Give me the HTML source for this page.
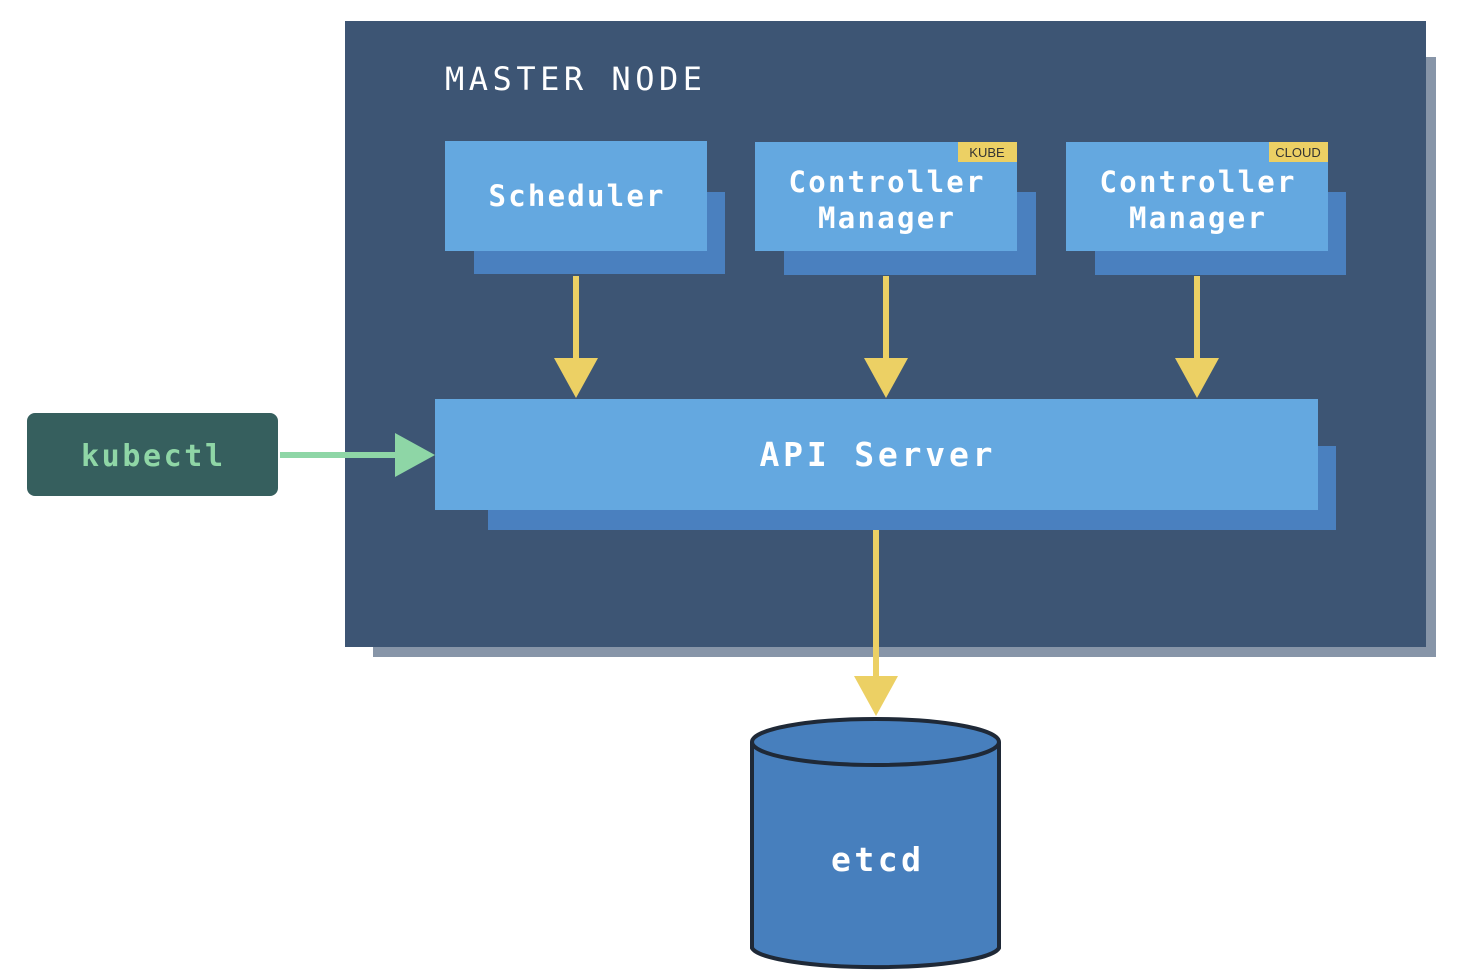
<!DOCTYPE html>
<html><head><meta charset="utf-8"><style>html,body{margin:0;padding:0;background:#fff}svg{display:block}</style></head>
<body>
<svg width="1468" height="972" viewBox="0 0 1468 972" xmlns="http://www.w3.org/2000/svg" font-family="DejaVu Sans Mono, Liberation Mono, monospace">
<rect x="373" y="57" width="1063" height="600" fill="#8795a8"/>
<rect x="345" y="21" width="1081" height="626" fill="#3d5574"/>
<text x="445" y="90" fill="#fff" font-size="32" textLength="257" lengthAdjust="spacing">MASTER NODE</text>

<rect x="474" y="192" width="251" height="82" fill="#4a80bf"/>
<rect x="445" y="141" width="262" height="110" fill="#64a8e0"/>
<text x="576" y="206" fill="#fff" font-size="29" font-weight="bold" text-anchor="middle" textLength="175" lengthAdjust="spacing">Scheduler</text>

<rect x="784" y="192" width="252" height="83" fill="#4a80bf"/>
<rect x="755" y="142" width="262" height="109" fill="#64a8e0"/>
<rect x="958" y="142" width="59" height="20" fill="#ecd064"/>
<text x="987" y="157" fill="#333" font-size="13" font-family="Liberation Sans, sans-serif" text-anchor="middle">KUBE</text>
<text x="886" y="192" fill="#fff" font-size="29" font-weight="bold" text-anchor="middle" textLength="195" lengthAdjust="spacing">Controller</text>
<text x="886" y="228" fill="#fff" font-size="29" font-weight="bold" text-anchor="middle" textLength="136" lengthAdjust="spacing">Manager</text>

<rect x="1095" y="192" width="251" height="83" fill="#4a80bf"/>
<rect x="1066" y="142" width="262" height="109" fill="#64a8e0"/>
<rect x="1269" y="142" width="59" height="20" fill="#ecd064"/>
<text x="1298" y="157" fill="#333" font-size="13" font-family="Liberation Sans, sans-serif" text-anchor="middle">CLOUD</text>
<text x="1197" y="192" fill="#fff" font-size="29" font-weight="bold" text-anchor="middle" textLength="195" lengthAdjust="spacing">Controller</text>
<text x="1197" y="228" fill="#fff" font-size="29" font-weight="bold" text-anchor="middle" textLength="136" lengthAdjust="spacing">Manager</text>

<g fill="#ecd064">
<rect x="573" y="276" width="6" height="84"/><polygon points="554,358 598,358 576,398"/>
<rect x="883" y="276" width="6" height="84"/><polygon points="864,358 908,358 886,398"/>
<rect x="1194" y="276" width="6" height="84"/><polygon points="1175,358 1219,358 1197,398"/>
</g>

<rect x="488" y="446" width="848" height="84" fill="#4a80bf"/>
<rect x="435" y="399" width="883" height="111" fill="#64a8e0"/>
<text x="876" y="466" fill="#fff" font-size="33" font-weight="bold" text-anchor="middle" textLength="233" lengthAdjust="spacing">API Server</text>

<rect x="27" y="413" width="251" height="83" rx="8" fill="#365f5e"/>
<text x="152" y="466" fill="#8fd6a6" font-size="30" font-weight="bold" text-anchor="middle" textLength="142" lengthAdjust="spacing">kubectl</text>
<rect x="280" y="452" width="118" height="6" fill="#8ed6a6"/>
<polygon points="395,433 395,477 435,455" fill="#8ed6a6"/>

<rect x="873" y="530" width="6" height="148" fill="#ecd064"/>
<polygon points="854,676 898,676 876,716" fill="#ecd064"/>

<path d="M752,742 L752,948 A124,21 0 0 0 999,948 L999,742" fill="#477fbd" stroke="#1f2937" stroke-width="4"/>
<ellipse cx="875.5" cy="742" rx="123.5" ry="23" fill="#477fbd" stroke="#1f2937" stroke-width="4"/>
<text x="876" y="871" fill="#fff" font-size="33" font-weight="bold" text-anchor="middle" textLength="90" lengthAdjust="spacing">etcd</text>
</svg>
</body></html>
